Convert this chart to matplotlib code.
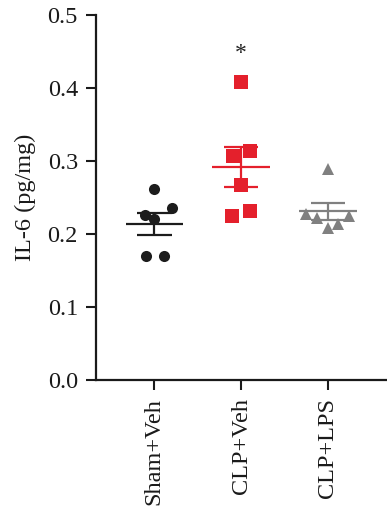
import numpy as np
import matplotlib
matplotlib.use("Agg")
import matplotlib.pyplot as plt

plt.rcParams['font.family'] = ['Liberation Serif', 'DejaVu Serif']

categories = ["Sham+Veh", "CLP+Veh", "CLP+LPS"]
sham_veh = [0.262, 0.2265, 0.235, 0.221, 0.170, 0.170]
clp_veh = [0.408, 0.306, 0.3137, 0.2667, 0.225, 0.2315]
clp_lps = [0.2886, 0.2274, 0.2215, 0.2247, 0.2086, 0.2137]
sham_jit = [0.0, -0.10, 0.21, 0.0, -0.09, 0.11]
clpv_jit = [0.0, -0.09, 0.10, 0.0, -0.10, 0.10]
lps_jit = [0.0, -0.25, -0.125, 0.24, 0.0, 0.12]
colors = ["#1c1c1c", "#e4202c", "#808080"]
markers = ["o", "s", "^"]
msizes = [8, 9.5, 8.5]

groups = [sham_veh, clp_veh, clp_lps]
jits = [sham_jit, clpv_jit, lps_jit]

fig = plt.figure(figsize=(3.87, 5.12), dpi=100)
ax = fig.add_axes([0.248, 0.258, 0.752, 0.713])

for i, (vals, jit) in enumerate(zip(groups, jits)):
    x0 = i + 1
    vals = np.array(vals)
    xs = x0 + np.array(jit)
    ax.plot(xs, vals, linestyle='none', marker=markers[i], color=colors[i],
            markersize=msizes[i], markeredgewidth=0, zorder=3)
    m = vals.mean()
    sem = vals.std(ddof=1) / np.sqrt(len(vals))
    ax.hlines(m, x0 - 0.33, x0 + 0.33, color=colors[i], lw=1.6, zorder=4)
    ax.vlines(x0, m - sem, m + sem, color=colors[i], lw=1.6, zorder=4)
    ax.hlines([m - sem, m + sem], x0 - 0.2, x0 + 0.2, color=colors[i], lw=1.6, zorder=4)

ax.text(2, 0.447, "*", ha='center', va='center', fontsize=17, color='#222222')

ax.set_xlim(0.33, 3.68)
ax.set_ylim(0, 0.5)
ax.set_yticks([0.0, 0.1, 0.2, 0.3, 0.4, 0.5])
ax.set_yticklabels(["0.0", "0.1", "0.2", "0.3", "0.4", "0.5"])
ax.set_xticks([1, 2, 3])
ax.set_xticklabels(categories, rotation=90)
ax.tick_params(axis='both', labelsize=17.5, width=1.5, length=7, pad=6,
               color='#1a1a1a', labelcolor='#1a1a1a')
ax.set_ylabel("IL-6 (pg/mg)", fontsize=17.5, color='#1a1a1a', labelpad=8)
for s in ['top', 'right']:
    ax.spines[s].set_visible(False)
for s in ['left', 'bottom']:
    ax.spines[s].set_linewidth(1.6)
    ax.spines[s].set_color('#1a1a1a')

fig.savefig("out.png", dpi=100)
